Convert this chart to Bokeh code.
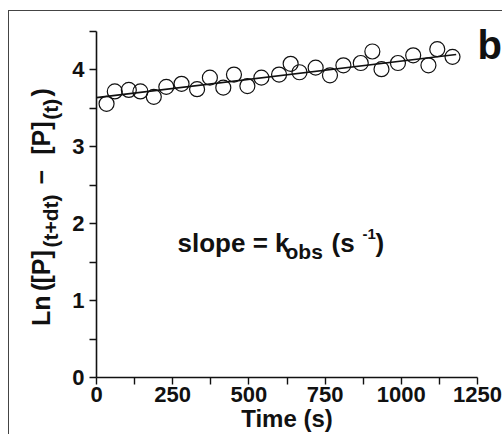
import math
from bokeh.plotting import figure
from bokeh.layouts import row
from bokeh.models import FixedTicker, Label, Range1d
from bokeh.core.properties import value
from bokeh.embed import file_html
from bokeh.resources import INLINE

# ---- data ----
time_s = [33, 60, 106, 144, 188, 229, 279, 330, 372, 416, 451, 495, 541, 599,
          637, 666, 719, 766, 810, 867, 905, 935, 989, 1039, 1089, 1118, 1168]
ln_dp = [3.56, 3.72, 3.74, 3.72, 3.65, 3.78, 3.82, 3.75, 3.90, 3.77, 3.94, 3.79,
         3.90, 3.94, 4.08, 3.97, 4.03, 3.93, 4.06, 4.09, 4.24, 4.01, 4.09, 4.19,
         4.06, 4.27, 4.17]
fit_x = [0, 1180]
fit_y = [3.64, 4.20]
x_ticks = [0, 250, 500, 750, 1000, 1250]
x_minor = [125, 375, 625, 875, 1125]
y_ticks = [0, 1, 2, 3, 4]
y_minor = [0.5, 1.5, 2.5, 3.5, 4.5]

# y-axis title pieces and whether each one is a subscript
ylabel_parts = ["Ln", "(", "[P]", "(t+dt)", "\u2212", "[P]", "(t)", ")"]
ylabel_sub = [False, False, False, True, False, False, True, False]

SANS = "Liberation Sans, Arial, sans-serif"
INK = "#111111"
H = 434
LW = 64           # width of the strip holding the rotated y title
MW = 502 - LW     # main figure width
TOP, BOTTOM = 31, 56

# ---------------- main plot ----------------
p = figure(width=MW, height=H, output_backend="svg", toolbar_location=None,
           x_range=Range1d(0, 1250), y_range=Range1d(0, 4.5),
           min_border_left=96 - LW, min_border_right=25, min_border_top=TOP,
           min_border_bottom=BOTTOM)
p.grid.visible = False
p.outline_line_color = None
p.border_fill_color = None
p.background_fill_color = "white"

for ax in (p.xaxis, p.yaxis):
    ax.axis_line_width = 1.6
    ax.axis_line_color = INK
    ax.major_tick_line_color = INK
    ax.minor_tick_line_color = INK
    ax.major_tick_line_width = 1.4
    ax.minor_tick_line_width = 1.4
    ax.major_tick_in = 0
    ax.major_tick_out = 7
    ax.minor_tick_in = 0
    ax.minor_tick_out = 7
    ax.major_label_text_font = SANS
    ax.major_label_text_font_style = "bold"
    ax.major_label_text_font_size = "22px"
    ax.major_label_text_color = INK

p.xaxis.ticker = FixedTicker(ticks=x_ticks, minor_ticks=x_minor)
p.yaxis.ticker = FixedTicker(ticks=y_ticks, minor_ticks=y_minor)
p.xaxis.major_label_standoff = 2
p.yaxis.major_label_standoff = 5
p.xaxis.axis_label = "Time (s)"
p.xaxis.axis_label_text_font = SANS
p.xaxis.axis_label_text_font_style = "bold"
p.xaxis.axis_label_text_font_size = "24px"
p.xaxis.axis_label_standoff = 0
p.xaxis.axis_label_text_color = INK

p.line(fit_x, fit_y, line_color=INK, line_width=1.6)
p.scatter(time_s, ln_dp, marker="circle", size=15, fill_alpha=0,
          line_color=INK, line_width=1.2)

FX0, FY0 = 96.0, 377.7   # page position of the frame's bottom-left corner


def lab(text, px, py, size):
    p.add_layout(Label(x=px - FX0, y=FY0 - py, x_units="screen", y_units="screen",
                       text=text, text_font=SANS, text_font_style="bold",
                       text_font_size=size, text_color=INK,
                       text_baseline="alphabetic", text_align="left"))


lab("slope = k", 177, 243, "26px")
lab("obs", 285, 252, "21px")
lab("(s", 331, 243, "26px")
lab("-1", 362, 234, "15px")
lab(")", 375, 243, "26px")

# panel letter in the right margin
p.add_layout(Label(x=0, y=FY0 - 45, x_units="screen", y_units="screen",
                   text="b", text_font=SANS, text_font_style="bold",
                   text_font_size="40px", text_color=INK,
                   text_baseline="alphabetic"), "right")

# ---------------- strip with the rotated y title ----------------
# the row aligns this strip's frame with the main frame (TOP .. H-BOTTOM),
# so its y range is set so that data y == H - page y
t = figure(width=LW, height=H, output_backend="svg", toolbar_location=None,
           x_range=Range1d(0, LW), y_range=Range1d(BOTTOM, H - TOP),
           x_axis_location=None, y_axis_location=None,
           min_border=0, min_border_top=TOP, min_border_bottom=BOTTOM)
t.grid.visible = False
t.outline_line_color = None
t.border_fill_color = None
t.background_fill_color = None

centers = [311, 287, 267, 221, 177, 138, 109, 92]    # page y of each piece's centre
main_x, sub_x = 40, 50
xs = [sub_x if s else main_x for s in ylabel_sub]
ys = [H - v for v in centers]
sizes = ["21px" if s else "25px" for s in ylabel_sub]
t.text(x=xs, y=ys, text=ylabel_parts, angle=math.pi / 2,
       text_font=value(SANS), text_font_style="bold", text_font_size=sizes,
       text_color=INK, text_baseline="middle", text_align="center")

layout = row(t, p, styles={
    "background": "linear-gradient(#444,#444) 8px 10px / 1px 100% no-repeat, "
                  "linear-gradient(#444,#444) 8px 10px / 100% 1px no-repeat, white"})

open("out.html", "w").write(file_html(layout, INLINE))
